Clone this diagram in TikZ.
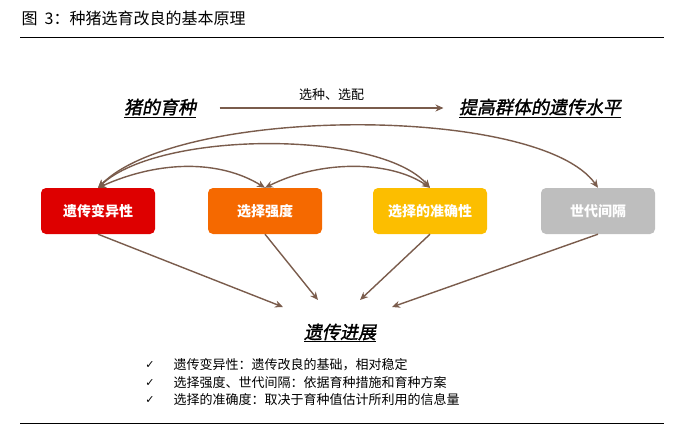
\documentclass[tikz,border=0pt]{standalone}
\usepackage{fontspec}
\setmainfont{Noto Sans CJK SC}
\newfontfamily\cjkit[FakeSlant=0.2,FakeBold=1.5]{Noto Sans CJK SC}
\newfontfamily\symfont{DejaVu Sans}
\usetikzlibrary{arrows.meta,positioning}
\definecolor{arrbrown}{RGB}{122,92,76}
\definecolor{boxred}{RGB}{222,0,0}
\definecolor{boxorange}{RGB}{245,105,0}
\definecolor{boxyellow}{RGB}{252,190,0}
\definecolor{boxgray}{RGB}{190,190,190}
\tikzset{
  factor/.style={rounded corners=5pt, minimum width=114pt, minimum height=46pt, text=white, font=\bfseries\fontsize{14}{16}\selectfont},
  headline/.style={font=\cjkit\fontsize{18}{21}\selectfont},
  link/.style={draw=arrbrown, line width=1.4pt, -{Stealth[length=8pt,width=7pt]}},
  twoway/.style={draw=arrbrown, line width=1.4pt, {Stealth[length=8pt,width=7pt]}-{Stealth[length=8pt,width=7pt]}}
}
\begin{document}
\begin{tikzpicture}[x=1pt,y=-1pt]
    \useasboundingbox (0,0) rectangle (676,431);
    % -- Title and rules
    \node[anchor=west, font=\fontsize{16}{18}\selectfont] (title) at (18,18) {图\ \ 3：种猪选育改良的基本原理};
    \draw[line width=1pt] (20,37) -- (664,37);
    \draw[line width=1pt] (20,423) -- (664,423);

    % -- Breeding goal
    \node[headline] (breed) at (160,108) {\underline{猪的育种}};
    \node[headline] (level) at (540,108) {\underline{提高群体的遗传水平}};
    \draw[link] ([xshift=20pt]breed.east) -- ([xshift=-12pt]level.west) node[midway, above=3pt, font=\fontsize{13}{15}\selectfont, text=black] {选种、选配};

    % -- Factors
    \node[factor, fill=boxred]    (var) at (98,211)  {遗传变异性};
    \node[factor, fill=boxorange] (int) at (265,211) {选择强度};
    \node[factor, fill=boxyellow] (acc) at (430,211) {选择的准确性};
    \node[factor, fill=boxgray]   (gen) at (598,211) {世代间隔};

    % -- Relations among factors
    \draw[twoway] (var.north) .. controls (160,160) and (220,160) .. (int.north);
    \draw[twoway] (int.north) .. controls (320,160) and (390,160) .. (acc.north);
    \draw[twoway] (var.north) .. controls (160,130) and (380,130) .. (acc.north);
    \draw[twoway] (var.north) .. controls (180,105) and (540,105) .. (gen.north);

    % -- Genetic progress
    \node[headline] (prog) at (340,333) {\underline{遗传进展}};
    \draw[link] (var.south) -- (283,307);
    \draw[link] (int.south) -- (318,300);
    \draw[link] (acc.south) -- (360,300);
    \draw[link] (gen.south) -- (392,307);

    % -- Notes
    \foreach \y/\txt in {365/遗传变异性：遗传改良的基础，相对稳定,
                         383/选择强度、世代间隔：依据育种措施和育种方案,
                         400/选择的准确度：取决于育种值估计所利用的信息量}{
      \node[font=\symfont\fontsize{11}{13}\selectfont] at (150,\y) {✓};
      \node[anchor=west, font=\fontsize{13}{15}\selectfont] at (170,\y) {\txt};
    }
\end{tikzpicture}
\end{document}
